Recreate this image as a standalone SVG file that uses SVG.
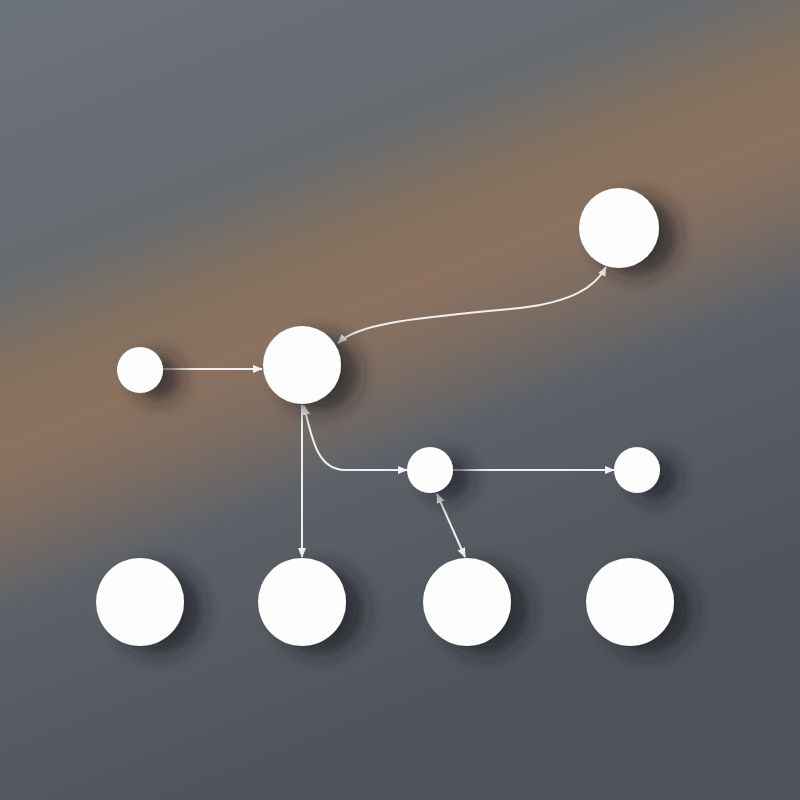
<svg xmlns="http://www.w3.org/2000/svg" width="800" height="800" viewBox="0 0 800 800">
<defs>
<linearGradient id="bg" gradientUnits="userSpaceOnUse" x1="250" y1="-85" x2="550" y2="665">
<stop offset="0" stop-color="#6c7279"/>
<stop offset="0.3" stop-color="#676b70"/>
<stop offset="0.41" stop-color="#83705f"/>
<stop offset="0.5" stop-color="#8c725f"/>
<stop offset="0.59" stop-color="#7b6c62"/>
<stop offset="0.69" stop-color="#5c6168"/>
<stop offset="1" stop-color="#4f545a"/>
</linearGradient>
<filter id="sh" x="-50%" y="-50%" width="240%" height="240%">
<feDropShadow dx="18" dy="8" stdDeviation="10" flood-color="#1a1e22" flood-opacity="0.7"/>
</filter>
<marker id="ah" viewBox="0 0 10 10" refX="9" refY="5" markerWidth="5" markerHeight="5" orient="auto-start-reverse">
<path d="M0,1 L10,5 L0,9 Z" fill="#f2f2f2"/>
</marker>
<style>
.n{fill:#fdfdfd;filter:url(#sh)}
.e{fill:none;stroke:#f0f0f0;stroke-width:2}
</style>
</defs>
<rect width="800" height="800" fill="url(#bg)"/>
<g id="connectors">
<path class="e" d="M163,369 L262,369" marker-end="url(#ah)"/>
<path class="e" d="M338,343 C360,322 420,318 520,308 C570,302 595,288 606,267" marker-start="url(#ah)" marker-end="url(#ah)"/>
<path class="e" d="M302,405 L302,557" marker-end="url(#ah)"/>
<path class="e" d="M304,406 C312,440 318,470 345,470 L407,470" marker-start="url(#ah)" marker-end="url(#ah)"/>
<path class="e" d="M453,470 L614,470" marker-end="url(#ah)"/>
<path class="e" d="M437,494 L465,557" marker-start="url(#ah)" marker-end="url(#ah)"/>
</g>
<g id="nA"><circle class="n" cx="140" cy="370" r="23"/></g>
<g id="nB"><circle class="n" cx="302" cy="365" r="39"/></g>
<g id="nC"><circle class="n" cx="619" cy="228" r="40"/></g>
<g id="nD"><circle class="n" cx="430" cy="470" r="23"/></g>
<g id="nE"><circle class="n" cx="637" cy="470" r="23"/></g>
<g id="nF"><circle class="n" cx="140" cy="602" r="44"/></g>
<g id="nG"><circle class="n" cx="302" cy="602" r="44"/></g>
<g id="nH"><circle class="n" cx="467" cy="602" r="44"/></g>
<g id="nI"><circle class="n" cx="630" cy="602" r="44"/></g>
</svg>
